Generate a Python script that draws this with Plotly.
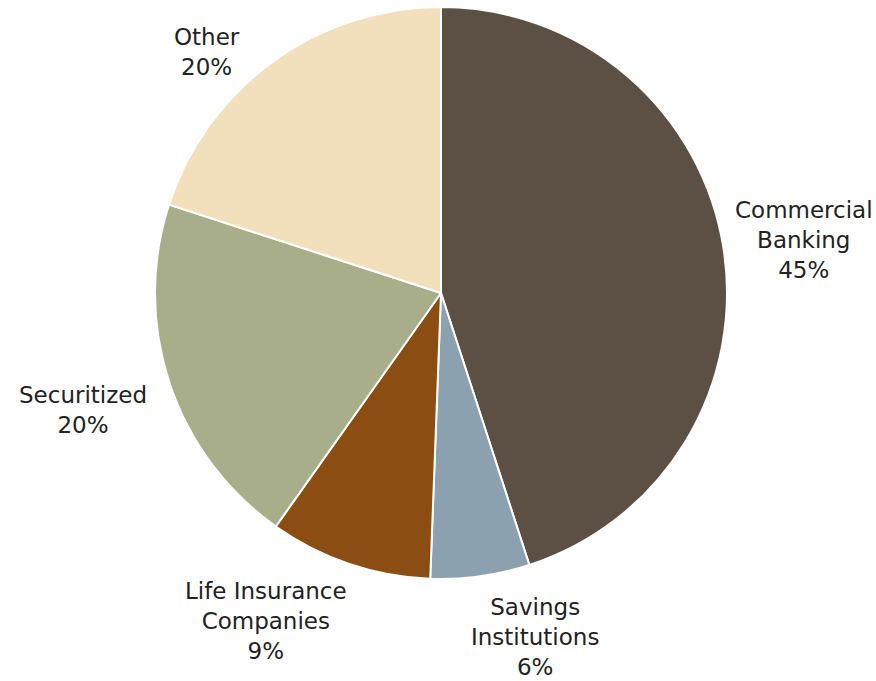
import plotly.graph_objects as go

categories = ["Commercial Banking", "Savings Institutions", "Life Insurance Companies", "Securitized", "Other"]
label_text = ["Commercial<br>Banking", "Savings<br>Institutions", "Life Insurance<br>Companies", "Securitized", "Other"]
values = [45.0, 5.6, 9.2, 20.2, 20.0]
colors = ["#5C5044", "#8CA1B0", "#8B4D11", "#A8AE8A", "#F2E0BC"]

W, H = 876, 681
# label block centres in pixels (text layout only)
label_pos = [(804, 240), (535, 637), (266, 621), (83, 410), (207, 52)]

fig = go.Figure(go.Pie(
    labels=categories,
    values=values,
    sort=False,
    direction="clockwise",
    rotation=0,
    marker=dict(colors=colors, line=dict(color="white", width=2)),
    textinfo="none",
    hoverinfo="label+percent",
    showlegend=False,
    domain=dict(x=[155 / W, 727 / W], y=[1 - 579 / H, 1 - 7 / H]),
))

total = sum(values)
annotations = []
for txt, v, (px, py) in zip(label_text, values, label_pos):
    annotations.append(dict(
        x=px / W, y=1 - py / H, xref="paper", yref="paper",
        text=f"{txt}<br>{round(100 * v / total)}%",
        showarrow=False, xanchor="center", yanchor="middle", align="center",
        font=dict(family="DejaVu Sans", size=23, color="#222222"),
    ))

fig.update_layout(
    width=W, height=H,
    margin=dict(l=0, r=0, t=0, b=0),
    paper_bgcolor="white", plot_bgcolor="white",
    annotations=annotations,
)

fig.write_html("out.html")
